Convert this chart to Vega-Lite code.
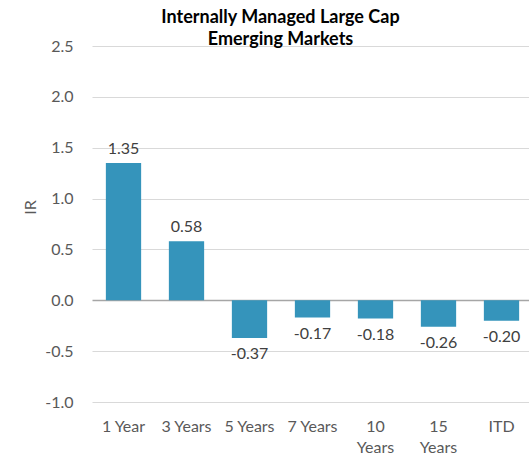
{
  "$schema": "https://vega.github.io/schema/vega-lite/v6.json",
  "autosize": {"type": "none"},
  "width": 441,
  "height": 356,
  "padding": {"left": 92, "top": 46, "right": -4, "bottom": 56},
  "background": "white",
  "config": {
    "view": {"stroke": null},
    "font": "Lato"
  },
  "title": {
    "text": ["Internally Managed Large Cap", "Emerging Markets"],
    "font": "Lato",
    "fontSize": 18,
    "fontWeight": "bold",
    "color": "#000000",
    "lineHeight": 22,
    "anchor": "middle",
    "baseline": "bottom",
    "offset": -29,
    "dx": -32
  },
  "data": {
    "values": [
      {"Period": "1 Year", "IR": 1.35},
      {"Period": "3 Years", "IR": 0.58},
      {"Period": "5 Years", "IR": -0.37},
      {"Period": "7 Years", "IR": -0.17},
      {"Period": "10 Years", "IR": -0.18},
      {"Period": "15 Years", "IR": -0.26},
      {"Period": "ITD", "IR": -0.20}
    ]
  },
  "transform": [
    {"calculate": "replace(format(datum.IR, '.2f'), '\u2212', '-')", "as": "label"}
  ],
  "encoding": {
    "x": {
      "field": "Period",
      "type": "nominal",
      "sort": null,
      "scale": {"paddingInner": 0.44, "paddingOuter": 0.22},
      "axis": {
        "title": null,
        "labelAngle": 0,
        "labelFont": "Lato",
        "labelFontSize": 16,
        "labelColor": "#595959",
        "labelPadding": 16,
        "labelLineHeight": 21,
        "labelExpr": "datum.value == '10 Years' || datum.value == '15 Years' ? split(datum.value, ' ') : datum.value",
        "ticks": false,
        "domain": false,
        "grid": false
      }
    }
  },
  "layer": [
    {
      "mark": {"type": "bar", "color": "#3594bb"},
      "encoding": {
        "y": {
          "field": "IR",
          "type": "quantitative",
          "scale": {"domain": [-1, 2.5], "nice": false},
          "axis": {
            "title": "IR",
            "titleFont": "Lato",
            "titleFontSize": 16,
            "titleFontWeight": "normal",
            "titleColor": "#595959",
            "titleX": -62,
            "titleY": 161,
            "titleAngle": 270,
            "titleAlign": "center",
            "titleBaseline": "middle",
            "values": [-1, -0.5, 0, 0.5, 1, 1.5, 2, 2.5],
            "labelExpr": "replace(format(datum.value, '.1f'), '\u2212', '-')",
            "labelFont": "Lato",
            "labelFontSize": 16,
            "labelColor": "#595959",
            "labelPadding": 19,
            "ticks": false,
            "domain": false,
            "grid": true,
            "gridColor": {"condition": {"test": "datum.value === 0", "value": "#a6a6a6"}, "value": "#d9d9d9"},
            "gridWidth": {"condition": {"test": "datum.value === 0", "value": 1.5}, "value": 1}
          }
        }
      }
    },
    {
      "transform": [{"filter": "datum.IR >= 0"}],
      "mark": {"type": "text", "baseline": "alphabetic", "dy": -9, "fontSize": 16, "font": "Lato", "color": "#404040"},
      "encoding": {
        "y": {"field": "IR", "type": "quantitative"},
        "text": {"field": "label"}
      }
    },
    {
      "transform": [{"filter": "datum.IR < 0"}],
      "mark": {"type": "text", "baseline": "top", "dy": 8, "fontSize": 16, "font": "Lato", "color": "#404040"},
      "encoding": {
        "y": {"field": "IR", "type": "quantitative"},
        "text": {"field": "label"}
      }
    }
  ]
}
